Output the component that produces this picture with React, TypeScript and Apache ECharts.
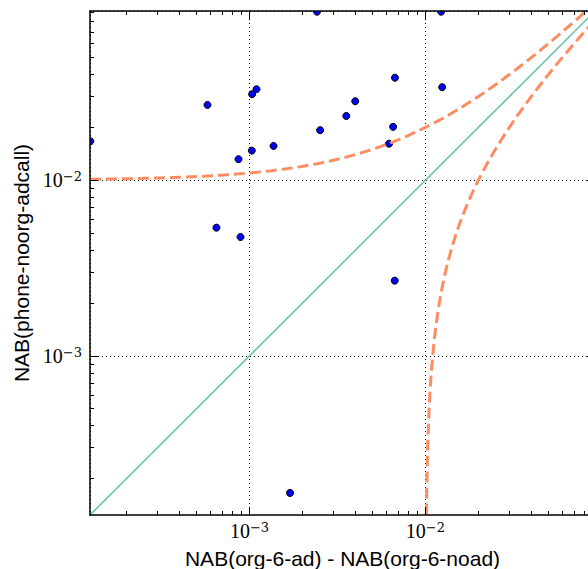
import { useEffect, useRef } from 'react';
import * as echarts from 'echarts';

// Axis ranges (log scale)
const X_MIN = 1.24e-4;
const X_MAX = 0.092;
const Y_MIN = 1.24e-4;
const Y_MAX = 0.092;

// Scatter points
const pointX = [
  1.245e-4, 5.77e-4, 1.035e-3, 1.096e-3, 8.66e-4, 1.031e-3, 1.37e-3, 2.42e-3, 1.228e-2, 2.52e-3,
  3.55e-3, 3.99e-3, 6.71e-3, 6.55e-3, 6.21e-3, 1.245e-2, 6.49e-4, 8.89e-4, 6.69e-3, 1.7e-3,
];
const pointY = [
  1.667e-2, 2.685e-2, 3.09e-2, 3.3e-2, 1.318e-2, 1.475e-2, 1.567e-2, 0.0912, 0.0912, 1.928e-2,
  2.323e-2, 2.818e-2, 3.837e-2, 2.014e-2, 1.615e-2, 3.388e-2, 5.37e-3, 4.75e-3, 2.68e-3, 1.656e-4,
];

// Reference curves: y = x, y = x + OFFSET, y = x - OFFSET
const OFFSET = 0.01;

const MAJOR_TICKS = [1e-3, 1e-2];
const MINOR_TICKS = [
  2e-4, 3e-4, 4e-4, 5e-4, 6e-4, 7e-4, 8e-4, 9e-4,
  2e-3, 3e-3, 4e-3, 5e-3, 6e-3, 7e-3, 8e-3, 9e-3,
  2e-2, 3e-2, 4e-2, 5e-2, 6e-2, 7e-2, 8e-2, 9e-2,
];

const X_TITLE = 'NAB(org-6-ad) - NAB(org-6-noad)';
const Y_TITLE = 'NAB(phone-noorg-adcall)';

function geomSamples(a: number, b: number, n: number): number[] {
  const out: number[] = [];
  const la = Math.log10(a);
  const lb = Math.log10(b);
  for (let i = 0; i <= n; i++) out.push(Math.pow(10, la + ((lb - la) * i) / n));
  return out;
}

export default function App() {
  const ref = useRef<HTMLDivElement>(null);

  useEffect(() => {
    if (!ref.current) return;
    const chart = echarts.init(ref.current, undefined, { renderer: 'svg' });

    const diag = [
      [X_MIN, X_MIN],
      [X_MAX, X_MAX],
    ];
    const upper = geomSamples(X_MIN, X_MAX, 200).map((x) => [x, x + OFFSET]);
    const lower = geomSamples(1e-6, X_MAX - OFFSET, 300).map((d) => [OFFSET + d, d]);
    const scatter = pointX.map((x, i) => [x, pointY[i]]);

    const fmt = (v: number) => {
      const e = Math.log10(v);
      const r = Math.round(e);
      if (Math.abs(e - r) > 1e-6) return '';
      return `{b|10}{s|${r < 0 ? '\u2212' : ''}${Math.abs(r)}}`;
    };
    const rich = {
      b: { fontFamily: 'Liberation Serif', fontSize: 20, lineHeight: 20, color: '#000' },
      s: { fontFamily: 'DejaVu Serif', fontSize: 13, lineHeight: 13, verticalAlign: 'top', color: '#000' },
    };
    const tickStyle = { color: '#000', width: 1 };
    const lineStyle = { color: '#000', width: 1.5 };
    const nameTextStyle = { fontFamily: 'Liberation Sans', fontSize: 21, color: '#000' };
    const gridLine = { show: true, lineStyle: { color: '#000', type: [1, 3], width: 1 } };

    const xBase = { type: 'log', logBase: 10, min: X_MIN, max: X_MAX, gridIndex: 0 } as any;
    const yBase = { type: 'log', logBase: 10, min: Y_MIN, max: Y_MAX, gridIndex: 0 } as any;
    const off = { show: false };

    const makeAxes = (
      base: any, first: string, second: string, name: string, nameGap: number, labelMargin: number,
    ) => [
      { ...base, position: first, z: 0, axisLine: off, axisTick: off, axisLabel: off, splitLine: gridLine },
      {
        ...base, position: first, z: 110,
        axisLine: { show: true, onZero: false, lineStyle },
        axisTick: { show: true, inside: true, length: 8, customValues: MAJOR_TICKS, lineStyle: tickStyle },
        axisLabel: { show: true, margin: labelMargin, formatter: fmt, rich },
        splitLine: off,
        name, nameLocation: 'middle', nameGap, nameTextStyle,
      },
      {
        ...base, position: first, z: 110, axisLine: { show: false, onZero: false },
        axisTick: { show: true, inside: true, length: 4, customValues: MINOR_TICKS, lineStyle: tickStyle },
        axisLabel: off, splitLine: off,
      },
      {
        ...base, position: second, z: 110,
        axisLine: { show: true, onZero: false, lineStyle },
        axisTick: { show: true, inside: true, length: 8, customValues: MAJOR_TICKS, lineStyle: tickStyle },
        axisLabel: off, splitLine: off,
      },
      {
        ...base, position: second, z: 110, axisLine: { show: false, onZero: false },
        axisTick: { show: true, inside: true, length: 4, customValues: MINOR_TICKS, lineStyle: tickStyle },
        axisLabel: off, splitLine: off,
      },
    ];

    chart.setOption({
      animation: false,
      backgroundColor: '#fff',
      grid: { left: 90, top: 11, width: 505, height: 504, containLabel: false, outerBoundsMode: 'none' },
      xAxis: makeAxes(xBase, 'bottom', 'top', X_TITLE, 33, 6),
      yAxis: makeAxes(yBase, 'left', 'right', Y_TITLE, 57, 8),
      graphic: {
        elements: [
          { type: 'rect', z: 100, silent: true, shape: { x: 0, y: 0, width: 588, height: 11 }, style: { fill: '#fff' } },
          { type: 'rect', z: 100, silent: true, shape: { x: 0, y: 0, width: 90, height: 569 }, style: { fill: '#fff' } },
          { type: 'rect', z: 100, silent: true, shape: { x: 0, y: 515, width: 588, height: 54 }, style: { fill: '#fff' } },
        ],
      },
      series: [
        {
          type: 'line', xAxisIndex: 0, yAxisIndex: 0, data: diag, symbol: 'none', silent: true,
          lineStyle: { color: '#66c2a5', width: 1.5 },
        },
        {
          type: 'line', xAxisIndex: 0, yAxisIndex: 0, data: upper, symbol: 'none', silent: true,
          lineStyle: { color: '#fc8d62', width: 3, type: [11, 5] },
        },
        {
          type: 'line', xAxisIndex: 0, yAxisIndex: 0, data: lower, symbol: 'none', silent: true,
          lineStyle: { color: '#fc8d62', width: 3, type: [11, 5] },
        },
        {
          type: 'scatter', xAxisIndex: 0, yAxisIndex: 0, data: scatter, symbol: 'circle', symbolSize: 7,
          itemStyle: { color: '#0000ff', borderColor: '#000', borderWidth: 1, opacity: 1 },
        },
      ],
    });

    return () => chart.dispose();
  }, []);

  return (
    <div
      ref={ref}
      style={{ position: 'absolute', left: 0, top: 0, width: 588, height: 569, background: '#fff' }}
    />
  );
}
